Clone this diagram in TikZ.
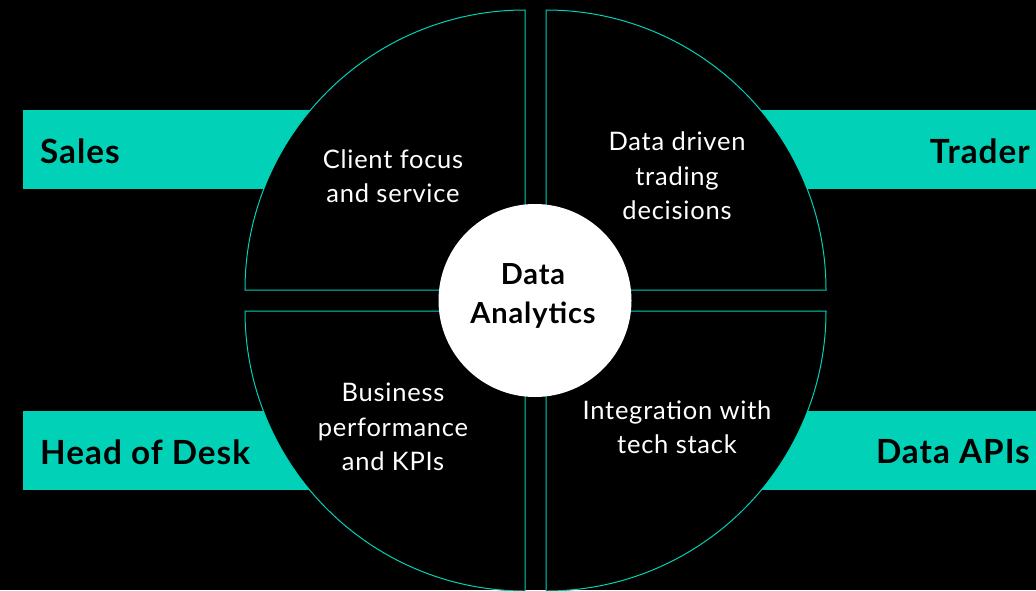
\documentclass[tikz,border=0pt]{standalone}
\usepackage{fontspec}
\setmainfont{Lato}[LetterSpace=3]
\usepackage{tikz}
\usetikzlibrary{positioning}

\definecolor{mint}{RGB}{0,209,183}

\tikzset{
  role/.style={inner sep=0pt, text=black, font=\bfseries\fontsize{33.3}{40}\selectfont},
  topic/.style={align=center, inner sep=0pt, text=white, font=\fontsize{25.5}{34.5}\selectfont},
  quad/.style={fill=black, draw=mint, line width=1pt}
}

\begin{document}
\begin{tikzpicture}[x=1pt,y=1pt]
\fill[black] (0,0) rectangle (1036,-590);
\useasboundingbox (0,0) rectangle (1036,-590);

% bars behind the wheel
\fill[mint] (23,-110) rectangle (330,-189);
\fill[mint] (740,-110) rectangle (1040,-189);
\fill[mint] (23,-411) rectangle (330,-490);
\fill[mint] (740,-411) rectangle (1040,-490);

% four quarters of the wheel
\begin{scope}
\clip (0,0) rectangle (1036,-590);
\foreach \cx/\cy/\a in {525/-290/180, 546/-290/90, 525/-311/270, 546/-311/0}
  \draw[quad] (\cx,\cy) -- ++(\a:280) arc[start angle=\a, end angle=\a-90, radius=280] -- cycle;
\end{scope}

\node[circle, fill=white, minimum size=193pt, inner sep=0pt] (hub) at (535,-300.5) {};
\node[align=center, inner sep=0pt, font=\bfseries\fontsize{29}{39}\selectfont] (hubtext) at (533,-296) {Data\\Analytics};

\node[topic] (client) at (393,-176) {Client focus\\and service};
\node[topic] (trading) at (677,-176) {Data driven\\trading\\decisions};
\node[topic] (kpis) at (393,-427) {Business\\performance\\and KPIs};
\node[topic] (tech) at (677,-427) {Integration with\\tech stack};

\node[role, anchor=west] (sales) at (40,-151) {Sales};
\node[role, anchor=east] (trader) at (1030,-151) {Trader};
\node[role, anchor=west] (desk) at (40,-452) {Head of Desk};
\node[role, anchor=east] (apis) at (1030,-452) {Data APIs};
\end{tikzpicture}
\end{document}
